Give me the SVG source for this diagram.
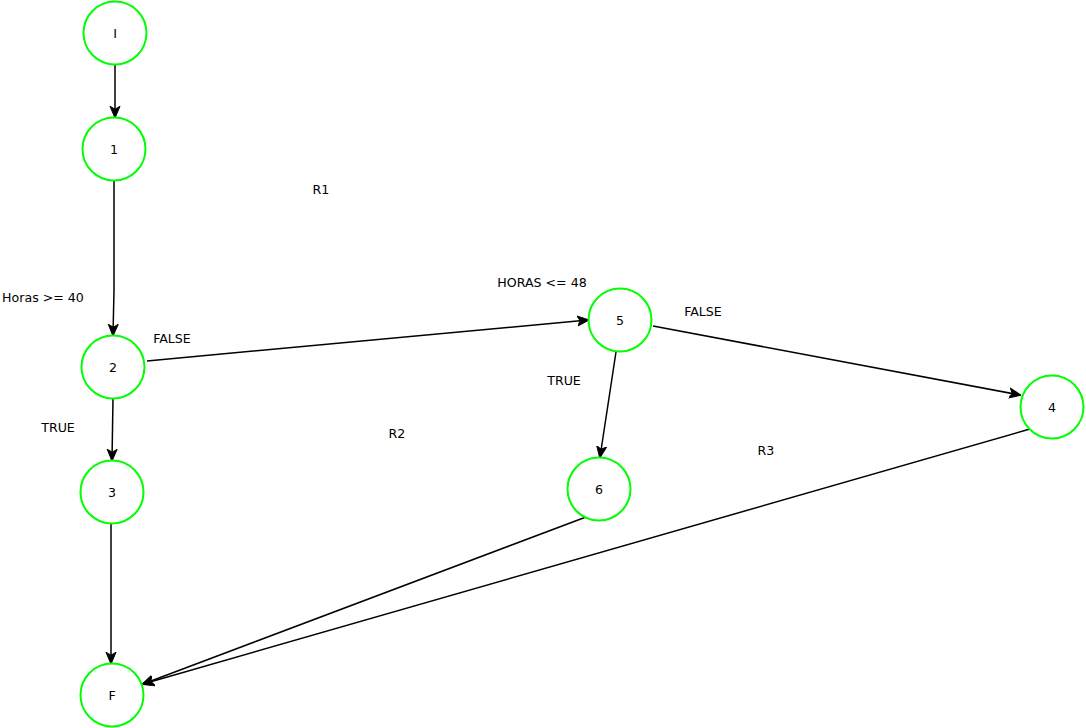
<svg xmlns="http://www.w3.org/2000/svg" width="1086" height="728" viewBox="0 0 1086 728">
<style>
.n{fill:#fff;stroke:#00ff00;stroke-width:2}
.t{font-family:"DejaVu Sans",sans-serif;font-size:12.6px;fill:#000;text-anchor:middle;dominant-baseline:central}
.e{fill:none;stroke:#000;stroke-width:1.5;marker-end:url(#a)}
</style>
<defs>
<marker id="a" viewBox="0 0 10 10" refX="9" refY="5" markerWidth="12" markerHeight="12" markerUnits="userSpaceOnUse" orient="auto">
<path d="M0,0.8 L10,5 L0,9.2 L2.5,5 Z" fill="#000" stroke="#000" stroke-width="0.8"/>
</marker>
</defs>
<rect width="1086" height="728" fill="#fff"/>
<g id="connectors">
<path class="e" d="M115,65 L115,117"/>
<path class="e" d="M114,181 L114,290 L113,335"/>
<path class="e" d="M147,361 L588,320"/>
<path class="e" d="M113,399 L112,460"/>
<path class="e" d="M653,326 L1020,395"/>
<path class="e" d="M616,352 L600,457"/>
<path class="e" d="M111,524 L111,663"/>
<path class="e" d="M586,517 L143,684"/>
<path class="e" d="M1030,429 L143,684"/>
</g>
<g id="nI"><circle class="n" cx="115" cy="33" r="31.5"/><text class="t" x="115" y="33">I</text></g>
<g id="n1"><circle class="n" cx="114" cy="149" r="31.5"/><text class="t" x="114" y="149">1</text></g>
<g id="n2"><circle class="n" cx="113" cy="367" r="31.5"/><text class="t" x="113" y="367">2</text></g>
<g id="n3"><circle class="n" cx="112" cy="492" r="31.5"/><text class="t" x="112" y="492">3</text></g>
<g id="nF"><circle class="n" cx="112" cy="695" r="31.5"/><text class="t" x="112" y="695">F</text></g>
<g id="n5"><circle class="n" cx="620" cy="320" r="31.5"/><text class="t" x="620" y="320">5</text></g>
<g id="n6"><circle class="n" cx="599" cy="489" r="31.5"/><text class="t" x="599" y="489">6</text></g>
<g id="n4"><circle class="n" cx="1052" cy="407" r="31.5"/><text class="t" x="1052" y="407">4</text></g>
<g id="labels">
<text class="t" x="321" y="189">R1</text>
<text class="t" x="43" y="297">Horas &gt;= 40</text>
<text class="t" x="542" y="282">HORAS &lt;= 48</text>
<text class="t" x="172" y="338">FALSE</text>
<text class="t" x="703" y="311">FALSE</text>
<text class="t" x="564" y="380">TRUE</text>
<text class="t" x="58" y="427">TRUE</text>
<text class="t" x="397" y="433">R2</text>
<text class="t" x="766" y="450">R3</text>
</g>
</svg>
